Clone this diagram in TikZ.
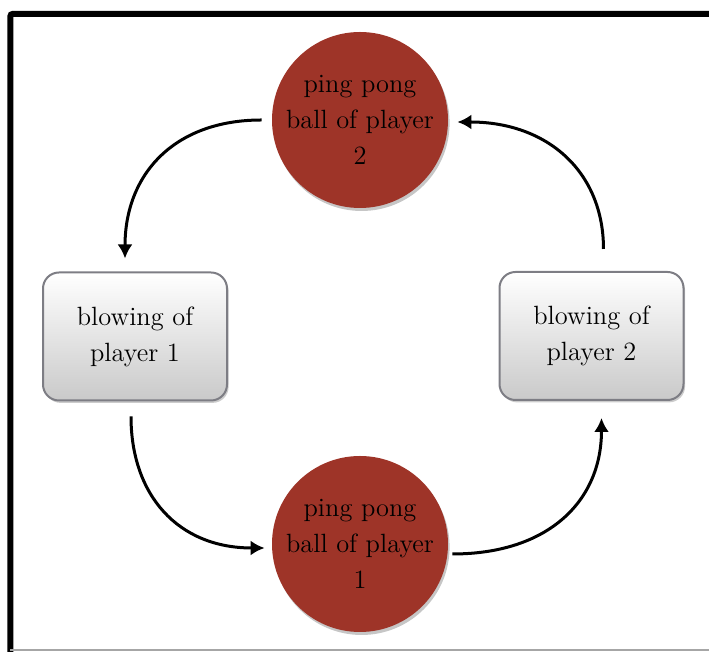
\documentclass[tikz,border=0pt]{standalone}
\usepackage{amsmath}
\usetikzlibrary{arrows.meta,shadows}

\definecolor{ballred}{RGB}{158,52,40}
\definecolor{boxedge}{RGB}{125,125,132}

\tikzset{
  ball/.style={circle, fill=ballred, minimum size=88pt, inner sep=0pt,
    align=center, font=\fontsize{13.2}{18}\selectfont,
    drop shadow={shadow xshift=0.8pt, shadow yshift=-1.5pt, opacity=0.45}},
  blowbox/.style={rectangle, rounded corners=8pt, draw=boxedge, line width=1pt,
    top color=white, bottom color=gray!42, minimum width=92pt, minimum height=64pt,
    align=center, font=\fontsize{13.2}{18}\selectfont,
    drop shadow={shadow xshift=0.8pt, shadow yshift=-1.2pt, opacity=0.4}},
  flow/.style={line width=1.5pt, looseness=1.18, -{Latex[length=7pt,width=7.5pt]}}
}

\begin{document}
\begin{tikzpicture}[x=0.5pt, y=0.5pt]
  \useasboundingbox (0,0) rectangle (709,652);

  % frame
  \draw[line width=3pt, rounded corners=1pt] (10.5,0) -- (10.5,638) -- (712,638);
  \draw[gray!70, line width=0.6pt] (10.5,2) -- (709,2);

  \coordinate (P2) at (360,532);
  \coordinate (P1) at (360,108);
  \coordinate (L)  at (135,315.5);
  \coordinate (R)  at (591.5,316);

  \node[ball]    (ball2) at (P2) {ping pong\\ball of player\\2};
  \node[ball]    (ball1) at (P1) {ping pong\\ball of player\\1};
  \node[blowbox] (blow1) at (L)  {blowing of\\player 1};
  \node[blowbox] (blow2) at (R)  {blowing of\\player 2};

  \draw[flow, shorten <=5pt, shorten >=6.5pt]
    (ball2.west) to[out=180, in=90] ([xshift=-5pt]blow1.north);
  \draw[flow, shorten <=7.5pt, shorten >=3.5pt]
    ([xshift=-2pt]blow1.south) to[out=-90, in=180] ([yshift=-2pt]ball1.west);
  \draw[flow, shorten <=2pt, shorten >=8.5pt]
    ([yshift=-5pt]ball1.east) to[out=0, in=-90] ([xshift=5pt]blow2.south);
  \draw[flow, shorten <=11pt, shorten >=4.5pt]
    ([xshift=6pt]blow2.north) to[out=90, in=0] ([yshift=-1pt]ball2.east);
\end{tikzpicture}
\end{document}
